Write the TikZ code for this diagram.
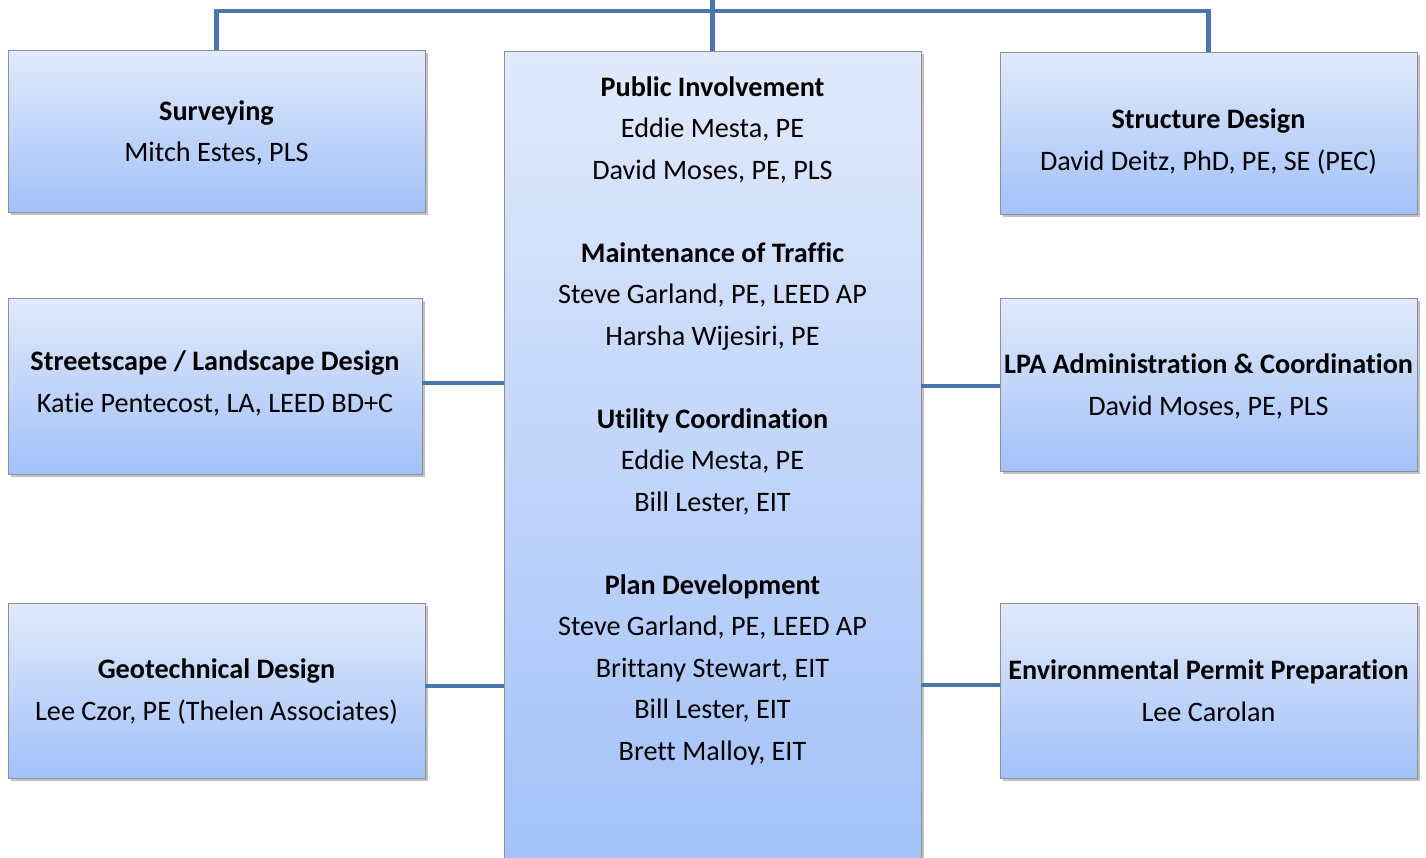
\documentclass[tikz,border=0pt]{standalone}
\usepackage{fontspec}
\setmainfont{Carlito}[Ligatures=NoCommon]
\usetikzlibrary{shadows,calc}
\definecolor{conncol}{HTML}{4A76AE}
\definecolor{boxtop}{HTML}{E0EAFB}
\definecolor{boxbot}{HTML}{A2C1F9}
\definecolor{boxline}{HTML}{8E9099}
\tikzset{
  orgbox/.style={draw=boxline, line width=0.8pt, shading=axis, top color=boxtop, bottom color=boxbot,
    inner sep=0pt, drop shadow={shadow xshift=2.5pt, shadow yshift=-3pt, opacity=0.35, fill=black!70}},
  orgtext/.style={align=center, inner sep=0pt, font=\fontsize{28.2}{41.5}\selectfont},
  conn/.style={draw=conncol, line width=4.5pt}
}
\begin{document}
\begin{tikzpicture}[x=1pt,y=-1pt]
\useasboundingbox (0,0) rectangle (1426,857);
% boxes
\node[orgbox, minimum width=417pt, minimum height=162pt] (surv) at (216.5,131) {};
\node[orgbox, minimum width=414pt, minimum height=176pt] (street) at (215,386) {};
\node[orgbox, minimum width=417pt, minimum height=175pt] (geo) at (216.5,690.5) {};
\node[orgbox, minimum width=417pt, minimum height=820pt] (cent) at (712.5,461) {};
\node[orgbox, minimum width=417pt, minimum height=162pt] (struct) at (1208.5,133) {};
\node[orgbox, minimum width=417pt, minimum height=173pt] (lpa) at (1208.5,384.5) {};
\node[orgbox, minimum width=417pt, minimum height=175pt] (env) at (1208.5,690.5) {};
% connectors
\coordinate (root) at (712.5,0);
\coordinate (bus) at (712.5,11);
\draw[conn] (cent.north) -- (root);
\draw[conn] (surv.north) |- (bus) -| (struct.north);
\draw[conn] ($(street.east)+(0,-3)$) -- ($(street.east -| cent.west)+(0,-3)$);
\draw[conn] ($(lpa.west)+(0,1.5)$) -- ($(lpa.west -| cent.east)+(0,1.5)$);
\draw[conn] ($(geo.east)+(0,-4.5)$) -- ($(geo.east -| cent.west)+(0,-4.5)$);
\draw[conn] ($(env.west)+(0,-5.5)$) -- ($(env.west -| cent.east)+(0,-5.5)$);
% texts
\node[orgtext] (survt) at (216.5,133) {\textbf{Surveying}\\Mitch Estes, PLS};
\node[orgtext] (streett) at (215,383.5) {\textbf{Streetscape / Landscape Design}\\Katie Pentecost, LA, LEED BD+C};
\node[orgtext] (geot) at (216.5,691.5) {\textbf{Geotechnical Design}\\Lee Czor, PE (Thelen Associates)};
\node[orgtext] (structt) at (1208.5,141.5) {\textbf{Structure Design}\\David Deitz, PhD, PE, SE (PEC)};
\node[orgtext] (lpat) at (1208.5,386.5) {\textbf{LPA Administration \& Coordination}\\David Moses, PE, PLS};
\node[orgtext] (envt) at (1208.5,690.5) {\textbf{Environmental Permit Preparation}\\Lee Carolan};
\node[orgtext] (centt) at (712.5,420.5) {\textbf{Public Involvement}\\Eddie Mesta, PE\\David Moses, PE, PLS\\[41.5pt]
\textbf{Maintenance of Traffic}\\Steve Garland, PE, LEED AP\\Harsha Wijesiri, PE\\[41.5pt]
\textbf{Utility Coordination}\\Eddie Mesta, PE\\Bill Lester, EIT\\[41.5pt]
\textbf{Plan Development}\\Steve Garland, PE, LEED AP\\Brittany Stewart, EIT\\Bill Lester, EIT\\Brett Malloy, EIT};
\end{tikzpicture}
\end{document}
